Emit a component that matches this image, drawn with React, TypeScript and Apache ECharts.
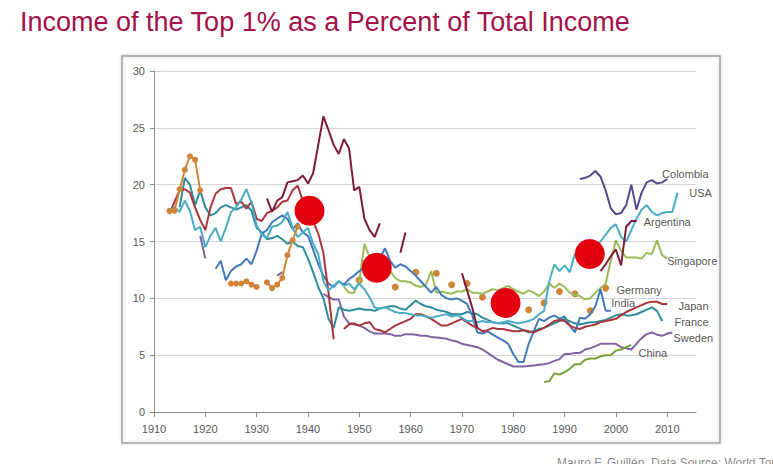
import React, { useEffect, useRef } from 'react';
import * as echarts from 'echarts';

// top 1% income share (%), one value per year from the start year, null = no data
const usaStart = 1913;
const usaValues = [
  17.7, 18.0, 17.6, 18.6, 17.7, 16.0, 16.3, 14.5, 15.5, 16.2,
  15.0, 16.2, 17.6, 18.0, 18.7, 19.6, 18.4, 16.4, 15.6, 15.3,
  16.3, 16.4, 16.7, 17.6, 16.2, 15.4, 15.8, 16.2, 14.8, 13.9,
  11.5, 10.7, 11.1, 11.5, 11.1, 11.3, 10.8, 11.3, 10.8, 10.1,
  9.2, 9.1, 9.2, 9.0, 8.8, 8.7, 8.7, 8.6, 8.5, 8.5,
  8.4, 8.3, 8.4, 8.5, 8.6, 8.4, 8.5, 8.3, 8.0, 8.0,
  7.9, 8.0, 7.9, 7.9, 7.8, 7.9, 8.0, 7.9, 7.8, 7.9,
  8.0, 8.2, 8.6, 8.9, 11.5, 13.0, 12.4, 12.9, 12.3, 13.9,
  14.3, 14.5, 14.6, 14.6, 15.0, 15.6, 16.2, 16.5, 15.4, 15.0,
  16.0, 17.0, 17.8, 18.2, 17.6, 17.3, 17.5, 17.6, 17.6, 19.3,
];

const franceStart = 1915;
const franceValues = [
  18.0, 20.6, 20.0, 18.2, 19.5, 18.0, 17.3, 17.5, 18.0, 18.2,
  18.0, 17.8, 18.0, 18.2, 17.7, 16.2, 15.8, 15.2, 15.3, 15.5,
  15.2, 14.8, 15.0, 14.6, 14.5, 13.5, 12.3, 11.0, 10.0, 8.2,
  7.4, 9.2, 9.0, 8.9, 9.0, 9.1, 9.0, 9.0, 8.9, 9.1,
  9.2, 9.3, 9.3, 9.1, 9.0, 9.4, 9.8, 9.5, 9.3, 9.2,
  9.0, 8.9, 8.8, 8.6, 8.6, 8.6, 8.8, 8.7, 8.6, 8.3,
  8.1, 7.9, 7.8, 7.8, 7.8, 7.6, 7.4, 7.2, 7.0, 7.1,
  7.3, 7.4, 7.6, 7.8, 8.0, 8.2, 8.0, 7.8, 7.7, 7.8,
  7.9, 7.9, 8.0, 8.1, 8.3, 8.5, 8.6, 8.5, 8.5, 8.6,
  8.8, 9.0, 9.2, 8.9, 8.0,
];

const japanStart = 1913;
const japanValues = [
  17.4, 18.5, 19.5, 19.6, 19.3, 18.0, 16.9, 16.0, 18.0, 19.2,
  19.6, 19.7, 19.7, 18.3, 18.5, 17.9, 18.5, 17.0, 16.8, 17.5,
  17.7, 18.0, 18.5, 18.6, 19.5, 19.9, 18.6, 17.5, 16.8, 15.7,
  14.0, 10.5, 6.4, null, 7.3, 7.7, 7.8, 7.6, 7.8, 7.9,
  7.3, 7.2, 7.0, 7.3, 7.6, 7.8, 8.0, 8.2, 8.6, 8.6,
  8.4, 8.2, 7.9, 7.6, 7.6, 7.8, 8.0, 8.2, 7.9, 7.6,
  7.4, 7.1, 7.2, 7.4, 7.3, 7.3, 7.2, 7.1, 7.1, 7.2,
  7.1, 7.0, 7.2, 7.4, 7.7, 8.0, 8.1, 8.0, 7.6, 7.4,
  7.3, 7.5, 7.6, 7.7, 7.9, 8.0, 8.1, 8.2, 8.5, 8.8,
  9.0, 9.2, 9.4, 9.6, 9.7, 9.7, 9.5, 9.5,
];

const argentinaStart = 1932;
const argentinaValues = [
  18.8, 17.6, 18.6, 18.9, 20.2, 20.3, 20.4, 20.8, 20.1, 21.0,
  23.5, 26.0, 24.8, 23.5, 22.7, 24.0, 23.2, 19.5, 19.8, 17.0,
  16.0, 15.4, 16.6, null, null, null, 14.0, 15.8, null, null,
  null, null, null, null, null, null, null, null, 12.2, 10.7,
  9.2, 7.4, null, null, null, null, null, null, null, null,
  null, null, null, null, null, null, null, null, null, null,
  null, null, null, null, null, 12.4, 13.0, 13.7, 14.3, 12.9,
  16.3, 16.8, 16.8,
];

const colombiaStart = 1993;
const colombiaValues = [
  20.5, 20.6, 20.8, 21.2, 20.7, 19.5, 17.9, 17.4, 17.5, 18.2,
  20.0, 17.8, 19.3, 20.2, 20.4, 20.1, 20.2, 20.5,
];

const singaporeStart = 1947;
const singaporeValues = [
  11.0, 10.5, 10.5, 11.5, 14.8, 13.6, 13.0, 12.8, 12.6, 12.4,
  11.8, 11.5, 11.5, 11.4, 11.1, 11.0, 11.2, 12.4, 10.5, 10.6,
  10.5, 10.4, 10.6, 10.6, 10.8, 10.5, 10.5, 10.4, 10.6, 10.8,
  10.7, 10.9, 11.1, 10.8, 10.6, 10.4, 10.7, 10.5, 10.2, 10.6,
  11.3, 10.9, 11.3, 11.0, 10.5, 10.3, 10.2, 9.9, 10.0, 10.5,
  10.9, 11.3, 13.3, 15.1, 14.2, 13.6, 13.6, 13.6, 13.5, 14.0,
  13.9, 15.1, 13.8, 13.5,
];

const germanyStart = 1913;
const germanyValues = [
  17.7, 17.7, 19.6, 21.3, 22.5, 22.2, 19.5, null, null, null,
  null, null, 11.3, 11.3, 11.3, 11.5, 11.2, 11.0, null, 11.4,
  10.9, 11.2, 11.8, 13.8, 15.1, 16.3,
];
const germanyDotYears = [1950, 1957, 1961, 1965, 1968, 1971, 1974, 1977, 1980, 1983, 1986, 1989, 1992, 1995, 1998];
const germanyDotValues = [11.6, 11.0, 12.3, 12.2, 11.2, 11.3, 10.1, 9.8, 9.4, 9.0, 9.6, 10.6, 10.4, 8.9, 10.9];

const indiaStart = 1922;
const indiaValues = [
  12.6, 13.3, 11.6, 12.4, 12.8, 13.0, 13.5, 13.0, 14.2, 15.7,
  16.0, 16.7, 17.0, 17.3, 17.0, 16.1, 16.6, 15.8, 15.5, 14.3,
  13.0, 12.0, 11.3, 11.0, 11.5, 11.2, 11.7, 12.0, 12.4, 12.7,
  13.0, 13.2, 13.5, 14.4, 13.3, 12.7, 13.0, 12.8, 12.4, 12.0,
  11.5, 11.0, 10.5, 11.0, 10.3, 10.0, 9.9, 10.0, 9.8, 9.5,
  8.5, 7.0, 6.9, 7.1, 6.8, 6.55, 6.3, 6.0, 5.1, 4.4,
  4.4, 6.0, 7.1, 8.2, 8.0, 8.3, 8.5, 8.2, 8.4, 7.6,
  7.0, 8.3, 8.2, 8.6, 9.3, 10.8, 8.9, 8.9,
];

const swedenStart = 1919;
const swedenValues = [
  15.5, 13.5, null, null, null, null, null, null, null, null,
  null, null, null, null, null, 12.0, 12.3, null, null, null,
  null, null, null, null, 10.4, 10.1, 9.9, 9.9, 8.4, 7.8,
  7.7, 7.6, 7.4, 7.1, 6.9, 6.9, 6.9, 6.85, 6.7, 6.7,
  6.85, 6.85, 6.8, 6.7, 6.7, 6.6, 6.55, 6.5, 6.45, 6.3,
  6.2, 6.0, 5.9, 5.8, 5.7, 5.5, 5.2, 4.9, 4.6, 4.4,
  4.2, 4.0, 4.0, 4.0, 4.05, 4.1, 4.15, 4.2, 4.3, 4.5,
  4.65, 5.1, 5.1, 5.2, 5.2, 5.5, 5.6, 5.8, 6.0, 6.0,
  6.0, 6.0, 5.7, 5.6, 5.5, 6.0, 6.5, 6.85, 7.0, 6.8,
  6.7, 6.9, 7.0,
];

const chinaStart = 1986;
const chinaValues = [
  2.65, 2.7, 3.4, 3.3, 3.5, 3.8, 4.2, 4.2, 4.6, 4.7,
  4.7, 4.9, 5.0, 5.0, 5.4, 5.5, 5.7, 5.9,
];

// red highlight circles
const highlightYears = [1940.3, 1953.4, 1978.5, 1994.9];
const highlightValues = [17.7, 12.7, 9.6, 13.9];

// country names written next to the lines
const labelNames = ['Colombia', 'USA', 'Argentina', 'Singapore', 'Germany', 'India', 'Japan', 'France', 'Sweden', 'China'];
const labelYears = [2008.9, 2014.2, 2005.3, 2009.9, 2000.0, 1999.0, 2012.1, 2011.3, 2011.1, 2004.3];
const labelValues = [20.96, 19.25, 16.7, 13.3, 10.73, 9.55, 9.35, 7.96, 6.55, 5.18];

const yearTicks = [1910, 1920, 1930, 1940, 1950, 1960, 1970, 1980, 1990, 2000, 2010];

const FONT = '"Liberation Sans", Arial, sans-serif';

const toPairs = (start: number, values: (number | null)[]) =>
  values.map((v, i) => [start + i, v]);

const lineSeries = (name: string, color: string, start: number, values: (number | null)[]) => ({
  name,
  type: 'line' as const,
  data: toPairs(start, values),
  symbol: 'none',
  connectNulls: false,
  lineStyle: { color, width: 2 },
  itemStyle: { color },
});

const App: React.FC = () => {
  const chartRef = useRef<HTMLDivElement>(null);

  useEffect(() => {
    if (!chartRef.current) return;
    const chart = echarts.init(chartRef.current, null, { renderer: 'svg' });

    const option: echarts.EChartsOption = {
      animation: false,
      backgroundColor: '#ffffff',
      grid: { left: 154, right: 77, top: 71, bottom: 52 },
      xAxis: {
        type: 'value',
        min: 1910,
        max: 2015.6,
        interval: 10,
        axisLine: { lineStyle: { color: '#8c8c8c', width: 1 } },
        axisTick: { show: true, length: 5, lineStyle: { color: '#8c8c8c' }, customValues: yearTicks },
        axisLabel: {
          color: '#595959',
          fontSize: 11,
          fontFamily: FONT,
          margin: 11,
          customValues: yearTicks,
          formatter: (v: number) => String(v),
        },
        splitLine: { show: false },
      },
      yAxis: {
        type: 'value',
        min: 0,
        max: 30,
        interval: 5,
        axisLine: { show: true, lineStyle: { color: '#8c8c8c', width: 1 } },
        axisTick: { show: true, length: 4, lineStyle: { color: '#8c8c8c' } },
        axisLabel: { color: '#595959', fontSize: 11, fontFamily: FONT, margin: 9 },
        splitLine: { lineStyle: { color: '#d4d4d4', width: 1 } },
      },
      series: [
        lineSeries('Colombia', '#58498c', colombiaStart, colombiaValues),
        lineSeries('Sweden', '#8064a2', swedenStart, swedenValues),
        lineSeries('China', '#77a03a', chinaStart, chinaValues),
        lineSeries('Singapore', '#9bbb59', singaporeStart, singaporeValues),
        lineSeries('India', '#4479bb', indiaStart, indiaValues),
        lineSeries('France', '#2f8c9c', franceStart, franceValues),
        lineSeries('Japan', '#a8363a', japanStart, japanValues),
        lineSeries('USA', '#4bacc6', usaStart, usaValues),
        lineSeries('Argentina', '#7d1c36', argentinaStart, argentinaValues),
        {
          name: 'Germany',
          type: 'line',
          data: toPairs(germanyStart, germanyValues),
          symbol: 'circle',
          symbolSize: 6,
          showSymbol: true,
          connectNulls: false,
          lineStyle: { color: '#cf8538', width: 2 },
          itemStyle: { color: '#cf8538' },
        },
        {
          name: 'Germany dots',
          type: 'scatter',
          data: germanyDotYears.map((y, i) => [y, germanyDotValues[i]]),
          symbol: 'circle',
          symbolSize: 7,
          itemStyle: { color: '#cf8538', opacity: 1 },
        },
        {
          name: 'Highlights',
          type: 'scatter',
          z: 5,
          data: highlightYears.map((y, i) => [y, highlightValues[i]]),
          symbol: 'circle',
          symbolSize: 30,
          itemStyle: { color: '#e2000e', opacity: 1 },
        },
        {
          name: 'Labels',
          type: 'scatter',
          z: 6,
          data: labelYears.map((y, i) => [y, labelValues[i]]),
          symbol: 'circle',
          symbolSize: 1,
          itemStyle: { color: 'rgba(0,0,0,0)' },
          label: {
            show: true,
            position: 'right',
            distance: 0,
            align: 'left',
            verticalAlign: 'middle',
            fontSize: 11,
            fontFamily: FONT,
            color: '#262626',
            formatter: (p: any) => labelNames[p.dataIndex],
          },
        },
      ],
      graphic: [
        {
          type: 'rect',
          shape: { x: 122, y: 56, width: 598, height: 387 },
          style: {
            fill: 'none',
            stroke: '#a3a3a3',
            lineWidth: 1.5,
            shadowBlur: 3,
            shadowColor: 'rgba(0,0,0,0.2)',
          },
          silent: true,
        },
        {
          type: 'text',
          left: 20,
          top: 8,
          style: {
            text: 'Income of the Top 1% as a Percent of Total Income',
            fontSize: 27,
            fontFamily: FONT,
            fill: '#a3104a',
          },
        },
        {
          type: 'text',
          left: 557,
          top: 457,
          style: {
            text: 'Mauro F. Guillén, Data Source: World Top Incomes Database',
            fontSize: 12,
            fontFamily: FONT,
            fill: '#8a8a8a',
          },
        },
      ],
    };

    chart.setOption(option);
    return () => {
      chart.dispose();
    };
  }, []);

  return (
    <div
      ref={chartRef}
      style={{ position: 'fixed', left: 0, top: 0, width: 773, height: 464, background: '#fff' }}
    />
  );
};

export default App;
